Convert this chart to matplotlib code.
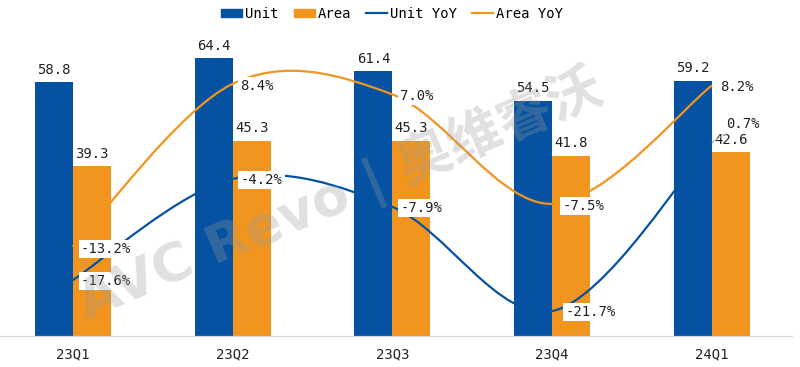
import matplotlib
matplotlib.use("Agg")
import matplotlib.pyplot as plt  # plotting
from matplotlib.path import Path  # smooth curve path
from matplotlib.patches import PathPatch, Patch
from matplotlib.lines import Line2D

# Chart data
quarters = ["23Q1", "23Q2", "23Q3", "23Q4", "24Q1"]
unit = [58.8, 64.4, 61.4, 54.5, 59.2]
area = [39.3, 45.3, 45.3, 41.8, 42.6]
unit_yoy = [-17.6, -4.2, -7.9, -21.7, 0.7]
area_yoy = [-13.2, 8.4, 7.0, -7.5, 8.2]

blue = "#0552A2"
orange = "#F1951F"
font = "DejaVu Sans Mono"


def smooth_path(xs, ys):
    # Builds an Excel-like smoothed line (Catmull-Rom as cubic Bezier segments)
    verts = [(xs[0], ys[0])]
    codes = [Path.MOVETO]
    n = len(xs)
    for i in range(n - 1):
        x0, y0 = xs[max(i - 1, 0)], ys[max(i - 1, 0)]
        x1, y1 = xs[i], ys[i]
        x2, y2 = xs[i + 1], ys[i + 1]
        x3, y3 = xs[min(i + 2, n - 1)], ys[min(i + 2, n - 1)]
        c1 = (x1 + (x2 - x0) / 6, y1 + (y2 - y0) / 6)
        c2 = (x2 - (x3 - x1) / 6, y2 - (y3 - y1) / 6)
        verts += [c1, c2, (x2, y2)]
        codes += [Path.CURVE4] * 3
    return Path(verts, codes)


fig = plt.figure(figsize=(8, 3.67), dpi=100)
ax = fig.add_axes([-0.009, 0.0845, 0.999, 0.8228])
ax2 = ax.twinx()

x = list(range(len(quarters)))
w = 0.238
bars1 = ax.bar([i - w / 2 for i in x], unit, width=w, color=blue, zorder=2)
bars2 = ax.bar([i + w / 2 for i in x], area, width=w, color=orange, zorder=2)

# Value labels above the bars
for b, v in zip(bars1, unit):
    ax.text(b.get_x() + b.get_width() / 2, v + 1.3, f"{v:.1f}", ha="center", va="bottom",
            fontsize=10, family=font, color="#222222")
for b, v in zip(bars2, area):
    ax.text(b.get_x() + b.get_width() / 2, v + 1.3, f"{v:.1f}", ha="center", va="bottom",
            fontsize=10, family=font, color="#222222")

ax.set_xlim(-0.5, 4.5)
ax.set_ylim(0, 70)
ax2.set_ylim(-25, 15)

# Smoothed YoY lines on the secondary axis
ax2.add_patch(PathPatch(smooth_path(x, unit_yoy), fill=False, edgecolor=blue, lw=1.6, zorder=3))
ax2.add_patch(PathPatch(smooth_path(x, area_yoy), fill=False, edgecolor=orange, lw=1.6, zorder=3))

box = dict(boxstyle="square,pad=0.15", fc="white", ec="none")
for i, v in enumerate(unit_yoy):
    if i == 4:
        ax2.annotate(f"{v:.1f}%", (i, v), xytext=(14, 18), textcoords="offset pixels",
                     ha="left", va="center", fontsize=10, family=font, color="#222222",
                     arrowprops=dict(arrowstyle="-", color="#bbbbbb", lw=0.8,
                                     shrinkA=0, shrinkB=0), zorder=5)
    else:
        off = 13 if i == 3 else 8
        ax2.annotate(f"{v:.1f}%", (i, v), xytext=(off, -1), textcoords="offset pixels",
                     ha="left", va="center", fontsize=10, family=font, color="#222222",
                     bbox=box, zorder=5)
for i, v in enumerate(area_yoy):
    off = 10 if i == 3 else 8
    ax2.annotate(f"{v:.1f}%", (i, v), xytext=(off, -2), textcoords="offset pixels",
                 ha="left", va="center", fontsize=10, family=font, color="#222222",
                 bbox=box, zorder=5)

# Axis styling
ax.set_xticks(x)
ax.set_xticklabels(quarters, fontsize=10, family=font, color="#222222")
ax.tick_params(axis="x", length=0, pad=8)
ax.set_yticks([])
ax2.set_yticks([])
for a in (ax, ax2):
    for s in ("top", "left", "right"):
        a.spines[s].set_visible(False)
    a.spines["bottom"].set_color("#d9d9d9")

# Watermark
fig.text(0.425, 0.47, "AVC Revo | 奥维睿沃", rotation=23, ha="center", va="center",
         fontsize=39, fontweight="bold", color="#999999", alpha=0.3,
         family=["DejaVu Sans", "Noto Sans CJK SC"], zorder=10)

# Legend
handles = [Patch(color=blue), Patch(color=orange),
           Line2D([], [], color=blue, lw=1.6), Line2D([], [], color=orange, lw=1.6)]
fig.legend(handles, ["Unit", "Area", "Unit YoY", "Area YoY"], loc="center",
           bbox_to_anchor=(0.49, 0.962), ncol=4, frameon=False,
           prop={"family": font, "size": 10}, handlelength=1.5, handleheight=0.6,
           handletextpad=0.2, columnspacing=1.1)

fig.savefig("out.png", dpi=100)
